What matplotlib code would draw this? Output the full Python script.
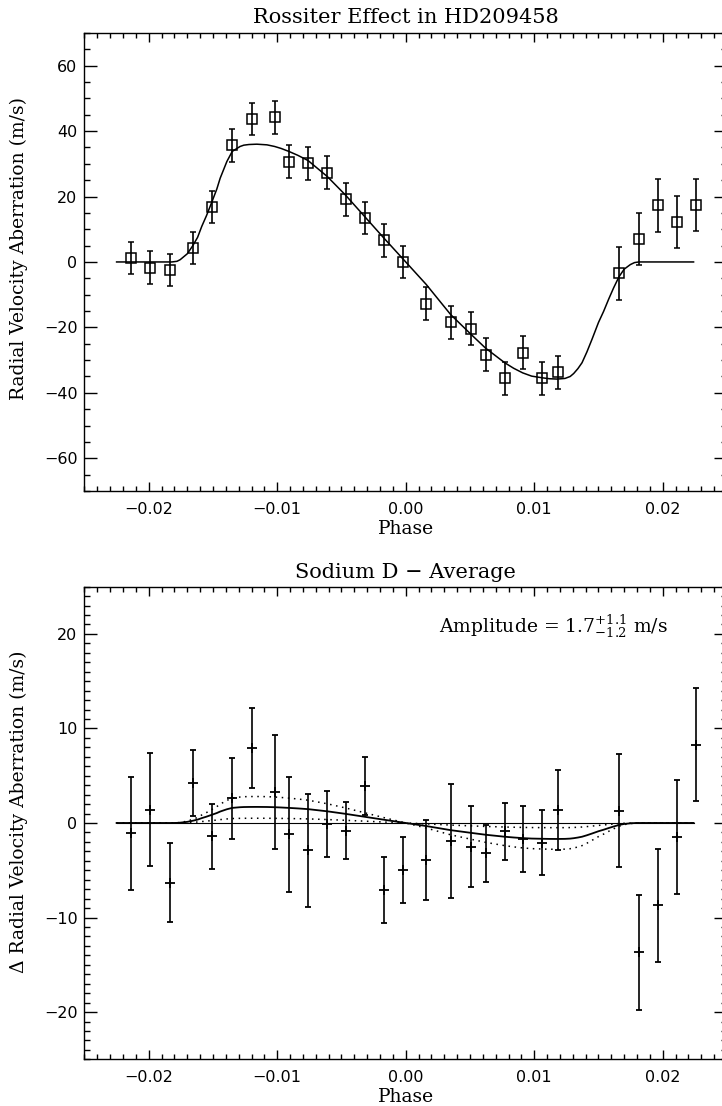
import matplotlib

matplotlib.use("Agg")
import matplotlib.pyplot as plt
from matplotlib.ticker import MultipleLocator

plt.rcParams["font.family"] = ["DejaVu Serif"]
plt.rcParams["mathtext.fontset"] = "dejavuserif"

# Rossiter effect, HD209458: radial velocity anomaly (m/s) vs orbital phase
rv_phase = [
    -0.02139, -0.01988, -0.01833, -0.01659, -0.01511, -0.01350, -0.01200,
    -0.01016, -0.00912, -0.00764, -0.00611, -0.00466, -0.00318, -0.00170,
    -0.00020, 0.00160, 0.00349, 0.00507, 0.00624, 0.00772, 0.00914,
    0.01062, 0.01184, 0.01661, 0.01815, 0.01960, 0.02110, 0.02258,
]
rv_value = [
    1.2, -1.7, -2.5, 4.3, 16.8, 35.7, 43.7,
    44.2, 30.6, 30.1, 27.3, 19.1, 13.4, 6.6,
    0.0, -12.7, -18.5, -20.4, -28.3, -35.6, -27.7,
    -35.6, -33.7, -3.5, 7.0, 17.3, 12.3, 17.4,
]
rv_error = [
    5.0, 5.0, 5.0, 5.0, 5.0, 5.0, 5.0,
    5.0, 5.0, 5.0, 5.0, 5.0, 5.0, 5.0,
    5.0, 5.0, 5.0, 5.0, 5.0, 5.0, 5.0,
    5.0, 5.0, 8.0, 8.0, 8.0, 8.0, 8.0,
]

# model curve
model_phase = [
    -0.0225, -0.0182, -0.0178, -0.01755, -0.0170, -0.0166, -0.0162,
    -0.01587, -0.0155, -0.01512, -0.0147, -0.01444, -0.01392, -0.0135,
    -0.01289, -0.0126, -0.0122, -0.01159, -0.0108, -0.0102, -0.0097,
    -0.0091, -0.0084, -0.0076, -0.0061, -0.0047, -0.0032, -0.0017, 0.0,
    0.0016, 0.0035, 0.0051, 0.0062, 0.0077, 0.0084, 0.0091, 0.0098,
    0.0106, 0.0112, 0.0118, 0.0124, 0.0128, 0.01307, 0.0134, 0.01372,
    0.0141, 0.0145, 0.0150, 0.0154, 0.0158, 0.01618, 0.0166, 0.0170,
    0.01748, 0.0178, 0.01813, 0.0224,
]
model_value = [
    0.0, 0.0, 0.2, 0.7, 2.5, 4.8, 7.5,
    10.9, 14.2, 18.0, 22.3, 25.6, 30.7, 33.8,
    35.3, 35.7, 35.9, 36.0, 35.8, 35.3, 34.7,
    33.8, 32.6, 31.0, 26.1, 20.5, 13.9, 7.3, 0.0,
    -6.9, -16.1, -22.2, -26.3, -30.8, -32.5, -33.9, -34.9,
    -35.4, -35.7, -35.8, -35.6, -35.0, -34.1, -32.6, -30.8,
    -27.5, -23.6, -18.5, -15.1, -11.3, -7.9, -4.5, -2.2,
    -0.8, -0.2, 0.0, 0.0,
]

# Sodium D average: differential radial velocity (m/s)
na_phase = rv_phase
na_value = [
    -1.1, 1.4, -6.3, 4.2, -1.4, 2.6, 7.9,
    3.3, -1.2, -2.9, -0.1, -0.8, 3.9, -7.1,
    -5.0, -3.9, -1.9, -2.5, -3.2, -0.9, -1.7,
    -2.1, 1.4, 1.3, -13.7, -8.7, -1.5, 8.3,
]
na_error = [
    6.0, 6.0, 4.2, 3.5, 3.45, 4.25, 4.25,
    6.0, 6.05, 6.0, 3.5, 3.0, 3.05, 3.5,
    3.5, 4.2, 6.0, 4.25, 3.0, 3.0, 3.5,
    3.45, 4.25, 6.0, 6.05, 6.0, 6.0, 6.0,
]
amplitude = 1.7
amplitude_plus = 1.1
amplitude_minus = 1.2

x_ticks = [-0.02, -0.01, 0.0, 0.01, 0.02]
x_tick_labels = ["\u22120.02", "\u22120.01", "0.00", "0.01", "0.02"]

fig = plt.figure(figsize=(7.22, 11.06), dpi=100)
ax_top = fig.add_axes([0.1170, 0.5561, 0.8899, 0.4141])
ax_bot = fig.add_axes([0.1170, 0.0422, 0.8899, 0.4274])


def style_axis(axis, y_major, y_minor, y_labels):
    axis.set_xlim(-0.025, 0.025)
    axis.xaxis.set_minor_locator(MultipleLocator(0.001))
    axis.set_xticks(x_ticks)
    axis.set_xticklabels(x_tick_labels)
    axis.set_yticks(y_major)
    axis.set_yticklabels(y_labels)
    axis.yaxis.set_minor_locator(MultipleLocator(y_minor))
    axis.tick_params(which="both", direction="in", top=True, right=True, width=1.0)
    axis.tick_params(axis="x", which="major", length=6.7, pad=8)
    axis.tick_params(axis="x", which="minor", length=3.4)
    axis.tick_params(axis="y", which="major", length=9.1, pad=5)
    axis.tick_params(axis="y", which="minor", length=4.5)
    for label in axis.get_xticklabels() + axis.get_yticklabels():
        label.set_fontfamily("DejaVu Sans")
        label.set_fontsize(11.5)
    for spine in axis.spines.values():
        spine.set_linewidth(1.0)
    axis.set_xlabel("Phase", fontsize=13.5, labelpad=2)


def minus_labels(values):
    return [str(v).replace("-", "\u2212") for v in values]


# top panel
top_y = [-60, -40, -20, 0, 20, 40, 60]
ax_top.plot(model_phase, model_value, color="black", lw=1.1)
ax_top.errorbar(
    rv_phase, rv_value, yerr=rv_error, fmt="s", mfc="none", mec="black",
    ms=7, mew=1.1, ecolor="black", elinewidth=1.2, capsize=2.3, capthick=1.2,
)
ax_top.set_ylim(-70, 70)
style_axis(ax_top, top_y, 5, minus_labels(top_y))
ax_top.set_title("Rossiter Effect in HD209458", fontsize=15, pad=7)
ax_top.set_ylabel("Radial Velocity Aberration (m/s)", fontsize=13.5)
ax_top.yaxis.set_label_coords(-0.088, 0.53)

# bottom panel
peak = max(model_value)
scaled = {
    "best": [v * amplitude / peak for v in model_value],
    "high": [v * (amplitude + amplitude_plus) / peak for v in model_value],
    "low": [v * (amplitude - amplitude_minus) / peak for v in model_value],
}
ax_bot.plot([model_phase[0], model_phase[-1]], [0, 0], color="black", lw=0.8)
ax_bot.plot(model_phase, scaled["best"], color="black", lw=1.3)
ax_bot.plot(model_phase, scaled["high"], color="black", lw=1.1, ls=(0, (1, 3)))
ax_bot.plot(model_phase, scaled["low"], color="black", lw=1.1, ls=(0, (1, 3)))
ax_bot.errorbar(
    na_phase, na_value, yerr=na_error, fmt="+", mec="black", ms=7, mew=1.3,
    ecolor="black", elinewidth=1.2, capsize=2.0, capthick=1.2,
)
ax_bot.set_ylim(-25, 25)
bot_y = [-20, -10, 0, 10, 20]
style_axis(ax_bot, bot_y, 1, minus_labels(bot_y))
ax_bot.set_title("Sodium D \u2212 Average", fontsize=15, pad=6)
ax_bot.set_ylabel("\u0394 Radial Velocity Aberration (m/s)", fontsize=13.5)
ax_bot.yaxis.set_label_coords(-0.088, 0.523)
ax_bot.text(
    0.73, 0.915,
    rf"Amplitude = {amplitude}$^{{+{amplitude_plus}}}_{{-{amplitude_minus}}}$ m/s",
    transform=ax_bot.transAxes, ha="center", va="center", fontsize=13.5,
)

fig.savefig("out.png", dpi=100)
